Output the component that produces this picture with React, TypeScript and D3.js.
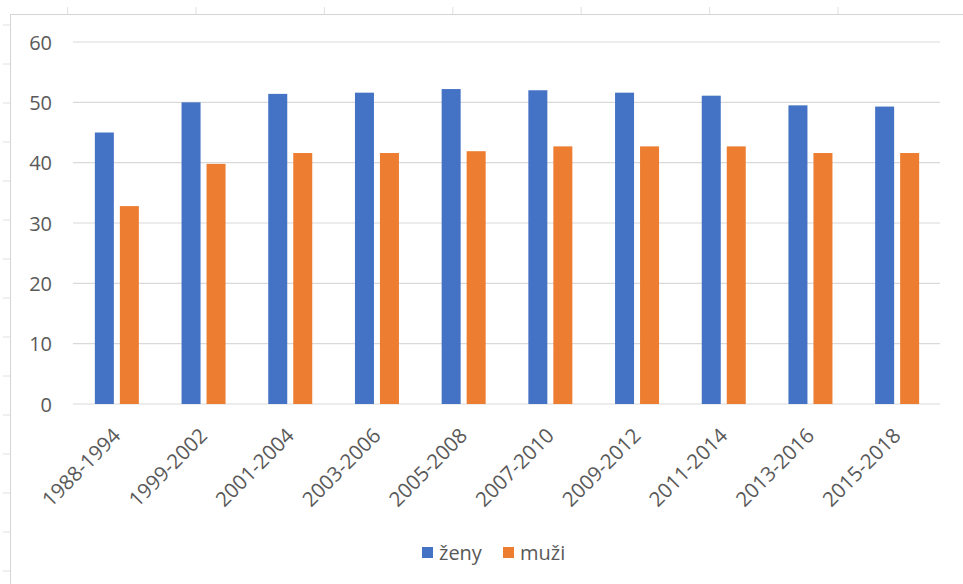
import React from "react";
import * as d3 from "d3";

const categories = [
  "1988-1994",
  "1999-2002",
  "2001-2004",
  "2003-2006",
  "2005-2008",
  "2007-2010",
  "2009-2012",
  "2011-2014",
  "2013-2016",
  "2015-2018",
];
const zeny = [45.0, 50.0, 51.4, 51.6, 52.2, 52.0, 51.6, 51.1, 49.5, 49.3];
const muzi = [32.8, 39.8, 41.6, 41.6, 41.9, 42.7, 42.7, 42.7, 41.6, 41.6];
const seriesNames = ["ženy", "muži"];
const colors = ["#4472C4", "#ED7D31"];
const yTicks = [0, 10, 20, 30, 40, 50, 60];

const W = 963;
const H = 584;
const FONT = "'Open Sans', 'Liberation Sans', sans-serif";
const TEXT = "#595959";
const GRID = "#d9d9d9";

export default function App() {
  const x = d3.scaleBand<string>().domain(categories).range([73.5, 940.5]).padding(0);
  const inner = d3.scaleBand<string>().domain(seriesNames).range([0, 44]).paddingInner(0.24);
  const y = d3.scaleLinear().domain([0, 60]).range([404, 42]);
  const series = [zeny, muzi];

  const topTicks = d3.range(7).map((i) => 67.6 + 128.4 * i);
  const leftTicks = d3.range(15).map((i) => 25 + 39 * i);

  return (
    <svg
      width={W}
      height={H}
      style={{ position: "absolute", left: 0, top: 0, background: "#fff" }}
      fontFamily={FONT}
    >
      {/* sheet/chart border */}
      <line x1={10} x2={W} y1={14.5} y2={14.5} stroke="#d4d4d4" />
      <line x1={10.5} x2={10.5} y1={14} y2={H} stroke="#d4d4d4" />
      {topTicks.map((t, i) => (
        <line key={"tt" + i} x1={t} x2={t} y1={7} y2={14} stroke="#e0e0e0" />
      ))}
      {leftTicks.map((t, i) => (
        <line key={"lt" + i} x1={3} x2={10} y1={t} y2={t} stroke="#e0e0e0" />
      ))}

      {/* gridlines and y labels */}
      {yTicks.map((t) => (
        <g key={"y" + t}>
          <line x1={73} x2={940} y1={y(t)} y2={y(t)} stroke={GRID} strokeWidth={1.2} />
          <text
            x={52}
            y={y(t)}
            textAnchor="end"
            dominantBaseline="central"
            fontSize={20}
            fill={TEXT}
          >
            {t}
          </text>
        </g>
      ))}

      {/* bars */}
      {categories.map((c, i) => {
        const cx = (x(c) as number) + x.bandwidth() / 2;
        return (
          <g key={c} transform={`translate(${cx - 22},0)`}>
            {series.map((s, j) => (
              <rect
                key={j}
                x={inner(seriesNames[j]) as number}
                y={y(s[i])}
                width={inner.bandwidth()}
                height={y(0) - y(s[i])}
                fill={colors[j]}
              />
            ))}
          </g>
        );
      })}

      {/* x labels */}
      {categories.map((c) => {
        const cx = (x(c) as number) + x.bandwidth() / 2;
        return (
          <text
            key={"xl" + c}
            transform={`translate(${cx + 5},437) rotate(-45)`}
            textAnchor="end"
            fontSize={20.5}
            fill={TEXT}
          >
            {c}
          </text>
        );
      })}

      {/* legend */}
      {seriesNames.map((n, j) => {
        const lx = [422, 503][j];
        return (
          <g key={"lg" + n}>
            <rect x={lx} y={547} width={11} height={11} fill={colors[j]} />
            <text x={lx + 17} y={552.5} dominantBaseline="central" fontSize={20} fill={TEXT}>
              {n}
            </text>
          </g>
        );
      })}
    </svg>
  );
}
